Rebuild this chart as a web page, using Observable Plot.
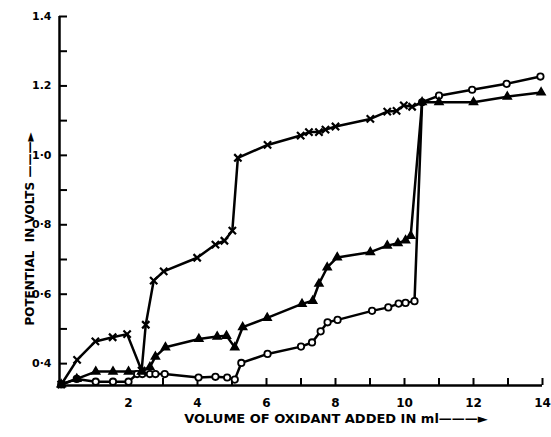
<!DOCTYPE html>
<html>
<head>
<meta charset="utf-8">
<script src="https://cdn.jsdelivr.net/npm/d3@7"></script>
<script src="https://cdn.jsdelivr.net/npm/@observablehq/plot@0.6"></script>
<style>
  html, body { margin: 0; padding: 0; background: #fff; }
  #chart svg { display: block; }
</style>
</head>
<body>
<div id="chart"></div>
<script>
// Series (volume in ml, potential in volts)
const crossX = [0.05, 0.51, 1.04, 1.54, 1.96, 2.38, 2.5, 2.73, 3.02, 3.99, 4.52, 4.78, 5.01, 5.17, 6.03, 6.99, 7.23, 7.52, 7.71, 8.0, 9.01, 9.5, 9.77, 9.98, 10.22];
const crossY = [0.34, 0.411, 0.464, 0.476, 0.485, 0.38, 0.512, 0.639, 0.666, 0.705, 0.743, 0.754, 0.783, 0.993, 1.03, 1.057, 1.067, 1.067, 1.074, 1.083, 1.105, 1.126, 1.128, 1.144, 1.14];

const triX = [0.05, 0.5, 1.05, 1.55, 2.0, 2.38, 2.62, 2.78, 3.07, 4.04, 4.57, 4.84, 5.08, 5.31, 6.02, 7.03, 7.34, 7.52, 7.76, 8.05, 9.01, 9.5, 9.81, 10.03, 10.18, 10.51, 11.0, 12.0, 12.98, 13.96];
const triY = [0.34, 0.356, 0.377, 0.377, 0.377, 0.377, 0.39, 0.42, 0.447, 0.471, 0.478, 0.48, 0.447, 0.505, 0.532, 0.572, 0.581, 0.63, 0.677, 0.706, 0.721, 0.74, 0.747, 0.755, 0.768, 1.153, 1.153, 1.153, 1.169, 1.181];

const circX = [0.05, 0.5, 1.05, 1.55, 2.0, 2.25, 2.4, 2.62, 2.78, 3.05, 4.03, 4.52, 4.86, 5.08, 5.27, 6.03, 7.0, 7.32, 7.57, 7.77, 8.06, 9.06, 9.53, 9.83, 10.03, 10.29, 10.51, 11.0, 11.96, 12.96, 13.94];
const circY = [0.34, 0.356, 0.348, 0.348, 0.348, 0.37, 0.37, 0.37, 0.37, 0.37, 0.36, 0.362, 0.36, 0.354, 0.402, 0.428, 0.449, 0.461, 0.493, 0.519, 0.526, 0.552, 0.562, 0.573, 0.575, 0.58, 1.153, 1.172, 1.189, 1.206, 1.227];

// cross curve joins the upper branch at the common point
const crossJoin = {x: 10.51, y: 1.153};

const xTicks = [1,2,3,4,5,6,7,8,9,10,11,12,13,14];
const xLabels = [2,4,6,8,10,12,14];
const yTicks = [0.4,0.5,0.6,0.7,0.8,0.9,1.0,1.1,1.2,1.3,1.4];
const yLabelValues = [0.4,0.6,0.8,1.0,1.2,1.4];
const yLabelTexts = ["0·4","0·6","0·8","1·0","1.2","1.4"];
const yMin = 0.337, yMax = 1.4, xMin = 0, xMax = 14;

const xTitle = "VOLUME OF OXIDANT ADDED IN ml———►";
const yTitle = "POTENTIAL  IN VOLTS ———►";

const zip = (xs, ys) => xs.map((x, i) => ({x, y: ys[i]}));
const cross = zip(crossX, crossY);
const tri = zip(triX, triY);
const circ = zip(circX, circY);
const crossLine = cross.concat([crossJoin]);

const font = "'DejaVu Sans', sans-serif";

const chart = Plot.plot({
  width: 551,
  height: 437,
  marginLeft: 59,
  marginRight: 9,
  marginTop: 16,
  marginBottom: 52,
  style: {fontFamily: font, fontWeight: "bold", fontSize: "11px", color: "#000", background: "#fff"},
  x: {domain: [xMin, xMax]},
  y: {domain: [yMin, yMax]},
  marks: [
    Plot.ruleX([xMin], {stroke: "#000", strokeWidth: 2.5}),
    Plot.ruleY([yMin], {stroke: "#000", strokeWidth: 2.5}),
    Plot.axisX({ticks: xTicks, tickSize: -7, strokeWidth: 2, text: null, label: null}),
    Plot.axisX({ticks: xLabels, tickSize: 0, tickPadding: 13, fontSize: 12, fontWeight: "bold", label: null}),
    Plot.axisY({ticks: yTicks, tickSize: -8, strokeWidth: 2, text: null, label: null}),
    Plot.axisY({ticks: yLabelValues, tickSize: 0, tickPadding: 8, fontSize: 11, fontWeight: "bold",
      tickFormat: d => yLabelTexts[yLabelValues.indexOf(d)], label: null}),
    Plot.line(crossLine, {x: "x", y: "y", stroke: "#000", strokeWidth: 2.5}),
    Plot.line(tri, {x: "x", y: "y", stroke: "#000", strokeWidth: 2.5}),
    Plot.line(circ, {x: "x", y: "y", stroke: "#000", strokeWidth: 2.5}),
    Plot.dot(circ, {x: "x", y: "y", r: 3.2, stroke: "#000", strokeWidth: 1.8, fill: "#fff"}),
    Plot.dot(tri, {x: "x", y: "y", symbol: "triangle", r: 3, stroke: "#000", strokeWidth: 1.5, fill: "#000"}),
    Plot.dot(cross, {x: "x", y: "y", symbol: "times", r: 3.4, stroke: "#000", strokeWidth: 2.2}),
    Plot.text([xTitle], {frameAnchor: "bottom", textAnchor: "middle", dx: 35, dy: 37, fontSize: 13, fontWeight: "bold", fill: "#000"}),
    Plot.text([yTitle], {frameAnchor: "left", textAnchor: "middle", rotate: -90, dx: -29, dy: 28, fontSize: 12, fontWeight: "bold", fill: "#000"})
  ]
});
document.getElementById("chart").appendChild(chart);
</script>
</body>
</html>
